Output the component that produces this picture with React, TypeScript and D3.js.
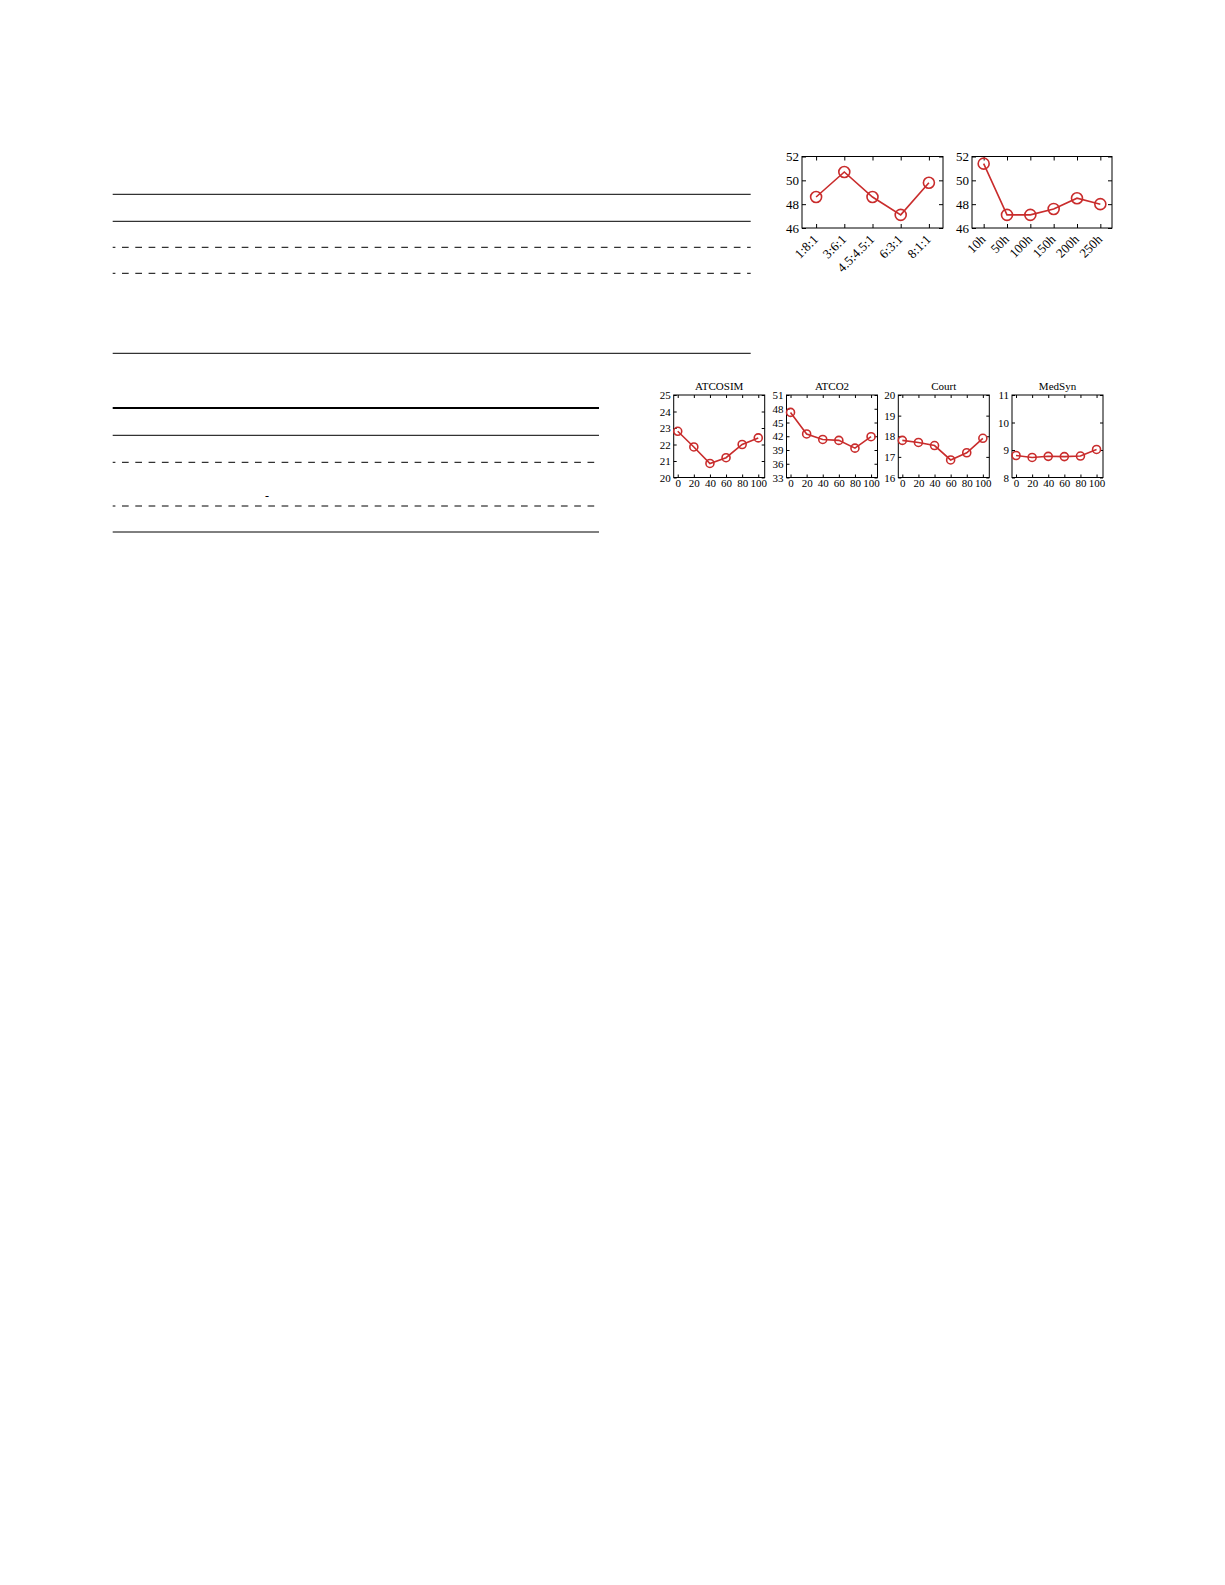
import React, {useEffect, useRef} from "react";
import * as d3 from "d3";

// data
const ratioLabels = ["1:8:1", "3:6:1", "4.5:4.5:1", "6:3:1", "8:1:1"];
const ratioValues = [48.6, 50.7, 48.6, 47.1, 49.8];
const ratioTicks = [46, 48, 50, 52];

const hourLabels = ["10h", "50h", "100h", "150h", "200h", "250h"];
const hourValues = [51.4, 47.1, 47.1, 47.6, 48.5, 48.0];
const hourTicks = [46, 48, 50, 52];

const weightSteps = [0, 20, 40, 60, 80, 100];
const atcosimValues = [22.8, 21.85, 20.85, 21.2, 22.0, 22.4];
const atcosimTicks = [20, 21, 22, 23, 24, 25];
const atco2Values = [47.2, 42.5, 41.3, 41.1, 39.4, 41.9];
const atco2Ticks = [33, 36, 39, 42, 45, 48, 51];
const courtValues = [17.8, 17.7, 17.55, 16.85, 17.2, 17.9];
const courtTicks = [16, 17, 18, 19, 20];
const medsynValues = [8.8, 8.73, 8.77, 8.76, 8.78, 9.02];
const medsynTicks = [8, 9, 10, 11];

const RED = "#c92c2c";
const FONT = "'Liberation Serif', 'Times New Roman', serif";

type PanelProps = {
    x0: number, y0: number, w: number, h: number,
    cats?: string[], steps?: number[], values: number[], yTicks: number[],
    title?: string, fontSize: number, r: number, tick: number
}

const Panel = ({x0, y0, w, h, cats, steps, values, yTicks, title, fontSize, r, tick}: PanelProps) => {
    const ref = useRef(null)

    useEffect(() => {
        const g = d3.select(ref.current)
        g.selectAll("*").remove()

        const yScale = d3.scaleLinear()
            .domain([yTicks[0], yTicks[yTicks.length - 1]])
            .range([h, 0])

        let xPos: (i: number) => number
        let xAxis: any, xTop: any
        if (cats) {
            const xScale = d3.scalePoint().domain(cats).range([0, w]).padding(0.5)
            xPos = i => xScale(cats[i]) as number
            xAxis = d3.axisBottom(xScale).tickSize(-tick).tickSizeOuter(0).tickPadding(0)
            xTop = d3.axisTop(xScale).tickSize(-tick).tickSizeOuter(0).tickFormat(() => "")
        } else {
            const xScale = d3.scaleLinear().domain([-5, 108]).range([0, w])
            xPos = i => xScale(steps![i])
            xAxis = d3.axisBottom(xScale).tickValues(steps!).tickFormat(d3.format("d"))
                .tickSize(-tick).tickSizeOuter(0).tickPadding(2)
            xTop = d3.axisTop(xScale).tickValues(steps!).tickSize(-tick).tickSizeOuter(0).tickFormat(() => "")
        }

        const yAxis = d3.axisLeft(yScale).tickValues(yTicks).tickFormat(d3.format("d"))
            .tickSize(-tick).tickSizeOuter(0).tickPadding(3)
        const yRight = d3.axisRight(yScale).tickValues(yTicks).tickSize(-tick).tickSizeOuter(0).tickFormat(() => "")

        const bx = g.append("g").attr("transform", `translate(0,${h})`).call(xAxis)
        g.append("g").call(xTop)
        g.append("g").call(yAxis)
        g.append("g").attr("transform", `translate(${w},0)`).call(yRight)

        g.selectAll(".domain").remove()
        g.selectAll(".tick line").attr("stroke", "#000").attr("stroke-width", 1)
        g.selectAll(".tick text")
            .attr("font-family", FONT)
            .attr("font-size", fontSize)
            .attr("fill", "#000")

        if (cats) {
            bx.selectAll(".tick text")
                .attr("x", 0).attr("y", 0).attr("dy", "0.35em")
                .attr("text-anchor", "end")
                .attr("transform", "translate(-1,9) rotate(-45)")
        }

        g.append("rect")
            .attr("width", w).attr("height", h)
            .attr("fill", "none").attr("stroke", "#000").attr("stroke-width", 1)

        const line = d3.line<number>()
            .x((_, i) => xPos(i))
            .y(v => yScale(v))

        g.append("path")
            .datum(values)
            .attr("d", line)
            .attr("fill", "none")
            .attr("stroke", RED)
            .attr("stroke-width", 1.6)

        g.selectAll(".dot")
            .data(values)
            .join("circle")
            .attr("class", "dot")
            .attr("cx", (_, i) => xPos(i))
            .attr("cy", v => yScale(v))
            .attr("r", r)
            .attr("fill", "none")
            .attr("stroke", RED)
            .attr("stroke-width", 1.6)

        if (title) {
            g.append("text")
                .attr("x", w / 2).attr("y", -5)
                .attr("text-anchor", "middle")
                .attr("font-family", FONT)
                .attr("font-size", fontSize)
                .text(title)
        }
    }, [])

    return <g ref={ref} transform={`translate(${x0},${y0})`}/>
}

// horizontal rules of the two tables
const Rule = ({y, x1, x2, dashed, width}: {y: number, x1: number, x2: number, dashed?: boolean, width?: number}) => (
    <line x1={x1} x2={x2} y1={y} y2={y} stroke="#000" strokeWidth={width || 1}
          strokeDasharray={dashed ? "6.7,6.6" : undefined} strokeDashoffset={dashed ? 4 : undefined}/>
)

const App = () => {
    return (
        <svg width={1225} height={1585} style={{position: "absolute", left: 0, top: 0, background: "#fff"}}>
            <Rule y={194.3} x1={112.7} x2={750.7}/>
            <Rule y={221.3} x1={112.7} x2={750.7}/>
            <Rule y={247.3} x1={112.7} x2={750.7} dashed/>
            <Rule y={273.3} x1={112.7} x2={750.7} dashed/>
            <Rule y={353.3} x1={112.7} x2={750.7}/>

            <Rule y={408} x1={112.7} x2={599} width={2}/>
            <Rule y={435.3} x1={112.7} x2={599}/>
            <Rule y={462.3} x1={112.7} x2={599} dashed/>
            <Rule y={506} x1={112.7} x2={599} dashed/>
            <Rule y={532} x1={112.7} x2={599}/>
            <text x={267} y={500} fontFamily={FONT} fontSize={12} textAnchor="middle">-</text>

            <Panel x0={802} y0={156.5} w={141} h={71.5} cats={ratioLabels} values={ratioValues}
                   yTicks={ratioTicks} fontSize={13} r={5.5} tick={4}/>
            <Panel x0={972} y0={156.5} w={140} h={71.5} cats={hourLabels} values={hourValues}
                   yTicks={hourTicks} fontSize={13} r={5.5} tick={4}/>

            <Panel x0={673.7} y0={395} w={91} h={82.5} steps={weightSteps} values={atcosimValues}
                   yTicks={atcosimTicks} title="ATCOSIM" fontSize={11} r={4} tick={3}/>
            <Panel x0={786.5} y0={395} w={91} h={82.5} steps={weightSteps} values={atco2Values}
                   yTicks={atco2Ticks} title="ATCO2" fontSize={11} r={4} tick={3}/>
            <Panel x0={898.3} y0={395} w={91} h={82.5} steps={weightSteps} values={courtValues}
                   yTicks={courtTicks} title="Court" fontSize={11} r={4} tick={3}/>
            <Panel x0={1012} y0={395} w={91} h={82.5} steps={weightSteps} values={medsynValues}
                   yTicks={medsynTicks} title="MedSyn" fontSize={11} r={4} tick={3}/>
        </svg>
    );
};

export default App;
